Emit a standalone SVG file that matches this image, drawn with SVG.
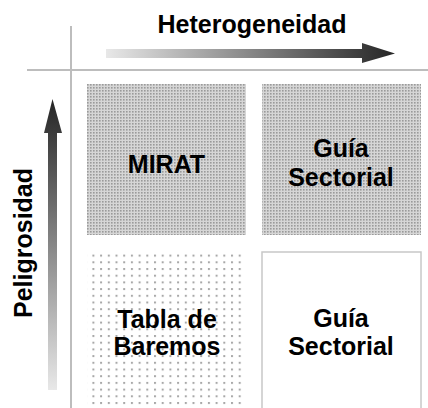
<svg xmlns="http://www.w3.org/2000/svg" width="428" height="408" viewBox="0 0 428 408">
<style>
.lbl{font-family:"Liberation Sans",Arial,sans-serif;font-weight:bold;font-size:25px;fill:#000;text-anchor:middle}
.axis{stroke:#bdbdbd;stroke-width:2;fill:none}
</style>
<defs>
<linearGradient id="gh" x1="0" y1="0" x2="1" y2="0">
<stop offset="0" stop-color="#e8e8e8"/><stop offset="1" stop-color="#252525"/>
</linearGradient>
<linearGradient id="gv" x1="0" y1="1" x2="0" y2="0">
<stop offset="0" stop-color="#e8e8e8"/><stop offset="1" stop-color="#252525"/>
</linearGradient>
<pattern id="dense" width="3" height="3" patternUnits="userSpaceOnUse">
<rect width="3" height="3" fill="#d6d6d6"/>
<rect x="0" y="0" width="1.6" height="1.6" fill="#9a9a9a"/>
</pattern>
<pattern id="sparse" width="7.7" height="6.7" patternUnits="userSpaceOnUse">
<rect width="7.7" height="6.7" fill="#fff"/>
<rect x="0" y="0" width="2" height="2" fill="#a8a8a8"/>
</pattern>
</defs>
<g id="axes">
<line class="axis" x1="27" y1="70" x2="428" y2="70"/>
<line class="axis" x1="71" y1="26" x2="71" y2="408"/>
</g>
<g id="heterogeneidad">
<text class="lbl" x="252" y="33">Heterogeneidad</text>
<polygon points="106,49 362,49 362,43 395,53.5 362,63 362,58 106,58" fill="url(#gh)"/>
</g>
<g id="peligrosidad">
<text class="lbl" transform="translate(32,243) rotate(-90)" x="0" y="0">Peligrosidad</text>
<polygon points="48,390 48,133 44,133 52.5,99 62,133 57,133 57,390" fill="url(#gv)"/>
</g>
<g id="mirat">
<rect x="87" y="84" width="159" height="151" fill="url(#dense)"/>
<text class="lbl" x="166.5" y="173">MIRAT</text>
</g>
<g id="guia-top">
<rect x="262" y="84" width="159" height="151" fill="url(#dense)"/>
<text class="lbl" x="341" y="157">Guía</text>
<text class="lbl" x="341" y="186">Sectorial</text>
</g>
<g id="tabla">
<rect x="87" y="254" width="159" height="160" fill="url(#sparse)"/>
<text class="lbl" x="167" y="328">Tabla de</text>
<text class="lbl" x="167" y="355">Baremos</text>
</g>
<g id="guia-bottom">
<rect x="262" y="252" width="159" height="170" fill="#fff" stroke="#c8c8c8" stroke-width="1.5"/>
<text class="lbl" x="341" y="327">Guía</text>
<text class="lbl" x="341" y="355">Sectorial</text>
</g>
<g id="connectors"></g>
</svg>
